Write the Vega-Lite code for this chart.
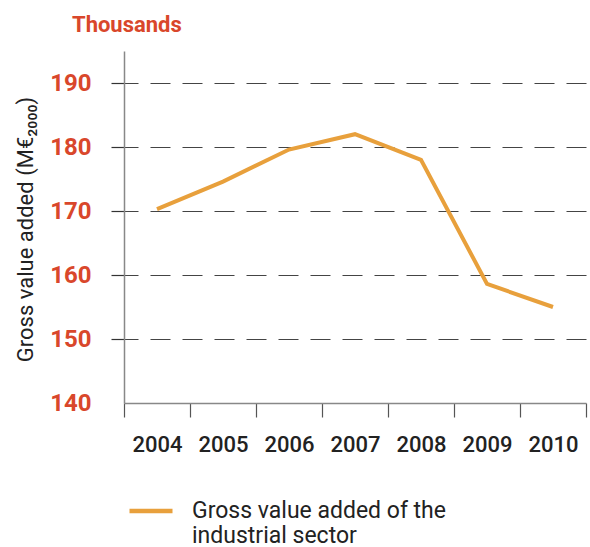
{
  "$schema": "https://vega.github.io/schema/vega-lite/v6.json",
  "autosize": "none",
  "width": 462,
  "height": 352,
  "padding": {"left": 124, "top": 51, "right": 4, "bottom": 144},
  "background": "white",
  "title": {
    "text": "Thousands",
    "anchor": "start",
    "frame": "group",
    "dx": -52,
    "offset": -3,
    "baseline": "alphabetic",
    "font": "Roboto",
    "fontSize": 22,
    "fontWeight": "bold",
    "color": "#d9472b"
  },
  "data": {
    "values": [
      {"year": "2004", "value": 170.3, "series": "Gross value added of the industrial sector"},
      {"year": "2005", "value": 174.6, "series": "Gross value added of the industrial sector"},
      {"year": "2006", "value": 179.6, "series": "Gross value added of the industrial sector"},
      {"year": "2007", "value": 182.0, "series": "Gross value added of the industrial sector"},
      {"year": "2008", "value": 178.0, "series": "Gross value added of the industrial sector"},
      {"year": "2009", "value": 158.6, "series": "Gross value added of the industrial sector"},
      {"year": "2010", "value": 155.0, "series": "Gross value added of the industrial sector"}
    ]
  },
  "mark": {"type": "line", "strokeWidth": 4},
  "encoding": {
    "x": {
      "field": "year",
      "type": "ordinal",
      "bandPosition": 0.5,
      "scale": {"type": "band", "paddingInner": 0, "paddingOuter": 0},
      "axis": {
        "title": null,
        "tickBand": "extent",
        "labelAngle": 0,
        "grid": false,
        "domainColor": "#888888",
        "domainWidth": 1.5,
        "tickColor": "#555555",
        "tickWidth": 1.2,
        "tickSize": 14,
        "labelPadding": 17,
        "labelFont": "Roboto",
        "labelFontSize": 22,
        "labelFontWeight": 500,
        "labelColor": "#222222"
      }
    },
    "y": {
      "field": "value",
      "type": "quantitative",
      "scale": {"domain": [140, 195], "nice": false, "zero": false},
      "axis": {
        "values": [140, 150, 160, 170, 180, 190],
        "title": "Gross value added (M€₂₀₀₀)",
        "titleX": -99,
        "titleY": 178,
        "titleAngle": -90,
        "titleAlign": "center",
        "titleBaseline": "middle",
        "titleFont": "Roboto",
        "titleFontSize": 22,
        "titleFontWeight": "normal",
        "titleColor": "#222222",
        "domainColor": "#888888",
        "domainWidth": 1.5,
        "tickSize": 13,
        "tickColor": "#333333",
        "tickWidth": 1.2,
        "tickOpacity": {"condition": {"test": "datum.value == 140", "value": 0}, "value": 1},
        "grid": true,
        "gridColor": "#444444",
        "gridWidth": 1.2,
        "gridDash": [20, 12],
        "gridDashOffset": 6,
        "gridOpacity": {"condition": {"test": "datum.value == 140", "value": 0}, "value": 1},
        "labelPadding": 20,
        "labelFont": "Roboto",
        "labelFontSize": 24,
        "labelFontWeight": "bold",
        "labelColor": "#d9472b"
      }
    },
    "color": {
      "field": "series",
      "type": "nominal",
      "scale": {"range": ["#e8a03c"]},
      "legend": {
        "title": null,
        "orient": "none",
        "legendX": 3,
        "legendY": 436,
        "symbolType": "stroke",
        "symbolSize": 1849,
        "symbolStrokeWidth": 4.5,
        "labelOffset": 17,
        "labelFont": "Roboto",
        "labelFontSize": 23,
        "labelColor": "#222222",
        "labelLimit": 400,
        "labelExpr": "['Gross value added of the', 'industrial sector']"
      }
    }
  },
  "config": {
    "view": {"stroke": null},
    "style": {"guide-label": {"lineHeight": 25}}
  }
}
